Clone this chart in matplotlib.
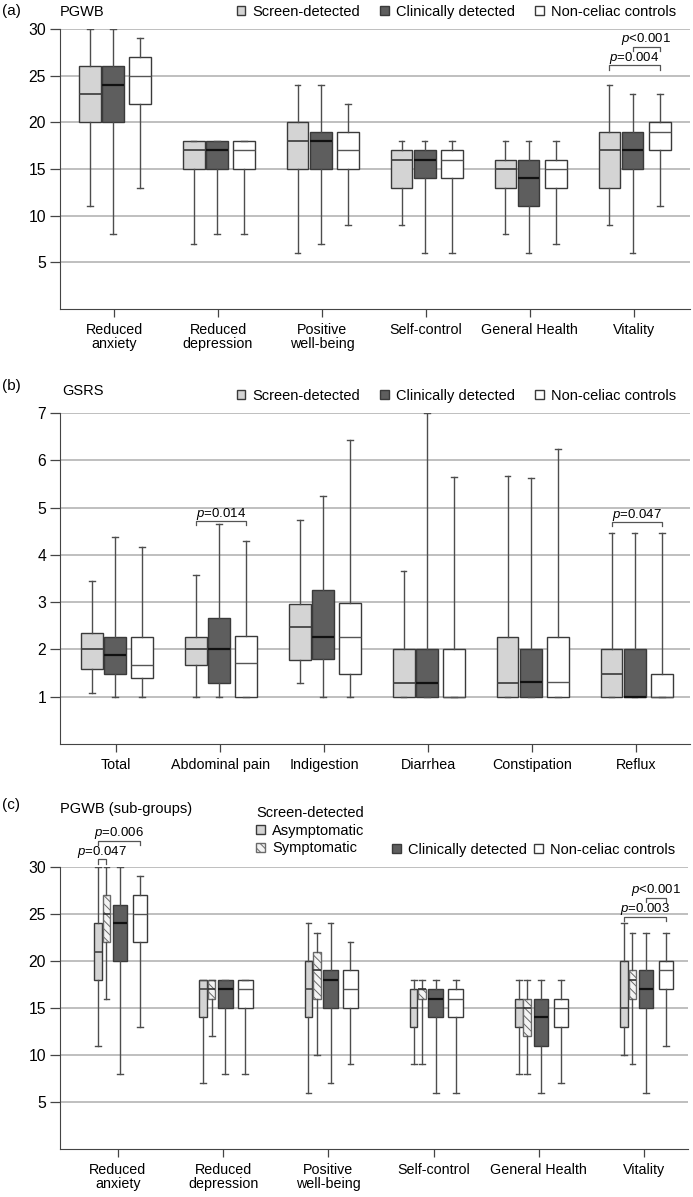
# -*- coding: utf-8 -*-

import numpy as np
import matplotlib.pyplot as plt
from matplotlib.patches import Patch

plt.rcParams['font.family'] = ['Liberation Sans', 'DejaVu Sans']
plt.rcParams['mathtext.fontset'] = 'custom'
plt.rcParams['mathtext.it'] = 'Liberation Sans:italic'
plt.rcParams['mathtext.rm'] = 'Liberation Sans'
plt.rcParams['hatch.linewidth'] = 0.7


"""
DATA (read off the figure)
===============================================================================
each row: [whisker low, Q1, median, Q3, whisker high], one row per category
"""
pgwb_cats = ['Reduced\nanxiety', 'Reduced\ndepression', 'Positive\nwell-being',
             'Self-control', 'General Health', 'Vitality']
gsrs_cats = ['Total', 'Abdominal pain', 'Indigestion', 'Diarrhea',
             'Constipation', 'Reflux']

a_screen = [[11, 20, 23, 26, 30], [7, 15, 17, 18, 18], [6, 15, 18, 20, 24],
            [9, 13, 16, 17, 18], [8, 13, 15, 16, 18], [9, 13, 17, 19, 24]]
a_clinic = [[8, 20, 24, 26, 30], [8, 15, 17, 18, 18], [7, 15, 18, 19, 24],
            [6, 14, 16, 17, 18], [6, 11, 14, 16, 18], [6, 15, 17, 19, 23]]
a_control = [[13, 22, 25, 27, 29], [8, 15, 17, 18, 18], [9, 15, 17, 19, 22],
             [6, 14, 16, 17, 18], [7, 13, 15, 16, 18], [11, 17, 19, 20, 23]]

b_screen = [[1.08, 1.58, 2.0, 2.35, 3.45], [1.0, 1.68, 2.0, 2.27, 3.57],
            [1.3, 1.78, 2.47, 2.97, 4.74], [1.0, 1.0, 1.3, 2.0, 3.67],
            [1.0, 1.0, 1.3, 2.27, 5.66], [1.0, 1.0, 1.48, 2.01, 4.46]]
b_clinic = [[1.0, 1.49, 1.89, 2.27, 4.38], [1.0, 1.3, 2.0, 2.66, 4.65],
            [1.0, 1.8, 2.27, 3.25, 5.25], [1.0, 1.0, 1.3, 2.0, 7.0],
            [1.0, 1.0, 1.31, 2.0, 5.63], [1.0, 1.0, 1.0, 2.0, 4.46]]
b_control = [[1.0, 1.39, 1.68, 2.27, 4.17], [1.0, 1.0, 1.72, 2.29, 4.29],
             [1.0, 1.49, 2.27, 2.98, 6.44], [1.0, 1.0, 1.0, 2.0, 5.64],
             [1.0, 1.0, 1.32, 2.27, 6.24], [1.0, 1.0, 1.0, 1.49, 4.46]]

c_asym = [[11, 18, 21, 24, 30], [7, 14, 17, 18, 18], [6, 14, 17, 20, 24],
          [9, 13, 15, 17, 18], [8, 13, 15, 16, 18], [10, 13, 15, 20, 24]]
c_sym = [[16, 22, 25, 27, 30], [12, 16, 17, 18, 18], [10, 16, 19, 21, 23],
         [9, 16, 17, 17, 18], [8, 12, 15, 16, 18], [9, 16, 18, 19, 23]]
c_clinic = a_clinic
c_control = a_control

# p-values: (category, series i, series j, bracket height, label)
a_pvals = [(5, 1, 2, 28.1, r'$p$<0.001'), (5, 0, 2, 26.1, r'$p$=0.004')]
b_pvals = [(1, 0, 2, 4.71, r'$p$=0.014'), (5, 0, 2, 4.69, r'$p$=0.047')]
c_pvals = [(0, 0, 1, 30.8, r'$p$=0.047'), (0, 0, 3, 32.8, r'$p$=0.006'),
           (5, 2, 3, 26.7, r'$p$<0.001'), (5, 0, 3, 24.7, r'$p$=0.003')]


"""
STYLE
===============================================================================
"""
LIGHT = '#d4d4d4'
DARK = '#5e5e5e'
EDGE = '#3a3a3a'
WHISK = '#4d4d4d'
GRID = '#b4b4b4'
HATCH = '\\\\\\\\'
FS = 10.5


def draw_boxes(ax, stats, pos, width, face, med_color, med_lw, hatch=None,
               edge=EDGE):
    bstats = [dict(whislo=s[0], q1=s[1], med=s[2], q3=s[3], whishi=s[4],
                   fliers=[]) for s in stats]
    ax.bxp(bstats, positions=pos, widths=width, capwidths=0.055,
           patch_artist=True, showfliers=False, manage_ticks=False,
           boxprops=dict(facecolor=face, edgecolor=edge, linewidth=1.0,
                         hatch=hatch),
           medianprops=dict(color=med_color, linewidth=med_lw),
           whiskerprops=dict(color=WHISK, linewidth=1.0),
           capprops=dict(color=WHISK, linewidth=1.0), zorder=3)


def style_axis(ax, xlim, ylim, yticks, cats):
    ax.set_xlim(xlim)
    ax.set_ylim(ylim)
    ax.set_yticks(yticks)
    ax.set_xticks(range(len(cats)))
    ax.set_xticklabels(cats)
    for lab in ax.get_xticklabels():
        lab.set_linespacing(1.05)
    ax.yaxis.grid(True, color=GRID, linewidth=1.2)
    ax.set_axisbelow(True)
    ax.spines['top'].set_visible(False)
    ax.spines['right'].set_visible(False)
    ax.spines['left'].set_color('#444444')
    ax.spines['bottom'].set_color('#444444')
    ax.tick_params(axis='y', length=7, width=0.9, pad=3, labelsize=11.3,
                   color='#444444')
    ax.tick_params(axis='x', length=6, width=0.9, pad=4, labelsize=FS - 0.2,
                   color='#444444')


def draw_pvals(ax, pvals, positions, hook):
    for cat, i, j, y, txt in pvals:
        x1 = cat + positions[i]
        x2 = cat + positions[j]
        ax.plot([x1, x1, x2, x2], [y - hook, y, y, y - hook], color='#555555',
                lw=0.9, clip_on=False, zorder=4)
        ax.annotate(txt, xy=((x1 + x2) / 2, y), xytext=(0, 5.5),
                    textcoords='offset points', ha='center', va='center',
                    fontsize=9.5, annotation_clip=False)


fig = plt.figure(figsize=(6.93, 11.97), dpi=100)
cats_idx = np.arange(6)

"""
PANEL (a) PGWB
===============================================================================
"""
ax1 = fig.add_axes([0.0866, 0.7419, 0.9091, 0.2339])
off_ab = [-0.235, -0.013, 0.248]
draw_boxes(ax1, a_screen, cats_idx + off_ab[0], 0.21, LIGHT, '#444444', 1.3)
draw_boxes(ax1, a_clinic, cats_idx + off_ab[1], 0.21, DARK, '#111111', 1.6)
draw_boxes(ax1, a_control, cats_idx + off_ab[2], 0.21, 'white', '#555555', 1.0)
style_axis(ax1, (-0.52, 5.54), (0, 30), [5, 10, 15, 20, 25, 30], pgwb_cats)
draw_pvals(ax1, a_pvals, off_ab, 0.45)

h_ab = [Patch(facecolor=LIGHT, edgecolor=EDGE),
        Patch(facecolor=DARK, edgecolor=EDGE),
        Patch(facecolor='white', edgecolor=EDGE)]
l_ab = ['Screen-detected', 'Clinically detected', 'Non-celiac controls']
ax1.legend(h_ab, l_ab, ncol=3, loc='center right', frameon=False,
           bbox_to_anchor=(676 / 693, 1 - 12 / 1197),
           bbox_transform=fig.transFigure, borderpad=0, borderaxespad=0,
           handlelength=0.6, handleheight=0.6, handletextpad=0.5,
           columnspacing=1.35, fontsize=FS)
fig.text(2 / 693, 1 - 11 / 1197, '(a)', fontsize=11, va='center')
fig.text(60 / 693, 1 - 12 / 1197, 'PGWB', fontsize=FS, va='center')

"""
PANEL (b) GSRS
===============================================================================
"""
ax2 = fig.add_axes([0.0866, 0.3784, 0.9091, 0.2765])
draw_boxes(ax2, b_screen, cats_idx + off_ab[0], 0.21, LIGHT, '#444444', 1.3)
draw_boxes(ax2, b_clinic, cats_idx + off_ab[1], 0.21, DARK, '#111111', 1.6)
draw_boxes(ax2, b_control, cats_idx + off_ab[2], 0.21, 'white', '#555555', 1.0)
style_axis(ax2, (-0.54, 5.52), (0, 7), [1, 2, 3, 4, 5, 6, 7], gsrs_cats)
draw_pvals(ax2, b_pvals, off_ab, 0.08)

ax2.legend(h_ab, l_ab, ncol=3, loc='center right', frameon=False,
           bbox_to_anchor=(676 / 693, 1 - 396 / 1197),
           bbox_transform=fig.transFigure, borderpad=0, borderaxespad=0,
           handlelength=0.6, handleheight=0.6, handletextpad=0.5,
           columnspacing=1.35, fontsize=FS)
fig.text(2 / 693, 1 - 386 / 1197, '(b)', fontsize=11, va='center')
fig.text(62 / 693, 1 - 391 / 1197, 'GSRS', fontsize=FS, va='center')

"""
PANEL (c) PGWB sub-groups
===============================================================================
"""
ax3 = fig.add_axes([0.0866, 0.0401, 0.9062, 0.2356])
off_c = [-0.19, -0.11, 0.02, 0.21]
draw_boxes(ax3, c_asym, cats_idx + off_c[0], 0.072, LIGHT, '#444444', 1.2)
draw_boxes(ax3, c_sym, cats_idx + off_c[1], 0.072, '#f4f4f4', '#333333', 1.2,
           hatch=HATCH, edge='#6a6a6a')
draw_boxes(ax3, c_clinic, cats_idx + off_c[2], 0.138, DARK, '#111111', 1.6)
draw_boxes(ax3, c_control, cats_idx + off_c[3], 0.138, 'white', '#555555', 1.0)
style_axis(ax3, (-0.551, 5.418), (0, 30), [5, 10, 15, 20, 25, 30], pgwb_cats)
draw_pvals(ax3, c_pvals, off_c, 0.45)

leg1 = ax3.legend([Patch(facecolor=LIGHT, edgecolor=EDGE),
                   Patch(facecolor='#f4f4f4', edgecolor='#6a6a6a',
                         hatch=HATCH)],
                  ['Asymptomatic', 'Symptomatic'], title='Screen-detected',
                  alignment='left', loc='upper left', frameon=False,
                  bbox_to_anchor=(256 / 693, 1 - 806 / 1197),
                  bbox_transform=fig.transFigure, borderpad=0,
                  borderaxespad=0, handlelength=0.6, handleheight=0.6,
                  handletextpad=0.5, labelspacing=0.25, fontsize=FS,
                  title_fontsize=FS)
ax3.add_artist(leg1)
ax3.legend(h_ab[1:], l_ab[1:], ncol=2, loc='center left', frameon=False,
           bbox_to_anchor=(392 / 693, 1 - 850 / 1197),
           bbox_transform=fig.transFigure, borderpad=0, borderaxespad=0,
           handlelength=0.6, handleheight=0.6, handletextpad=0.5,
           columnspacing=0.5, fontsize=FS)
fig.text(2 / 693, 1 - 805 / 1197, '(c)', fontsize=11, va='center')
fig.text(60 / 693, 1 - 809 / 1197, 'PGWB (sub-groups)', fontsize=FS,
         va='center')

fig.savefig('out.png', dpi=100)
